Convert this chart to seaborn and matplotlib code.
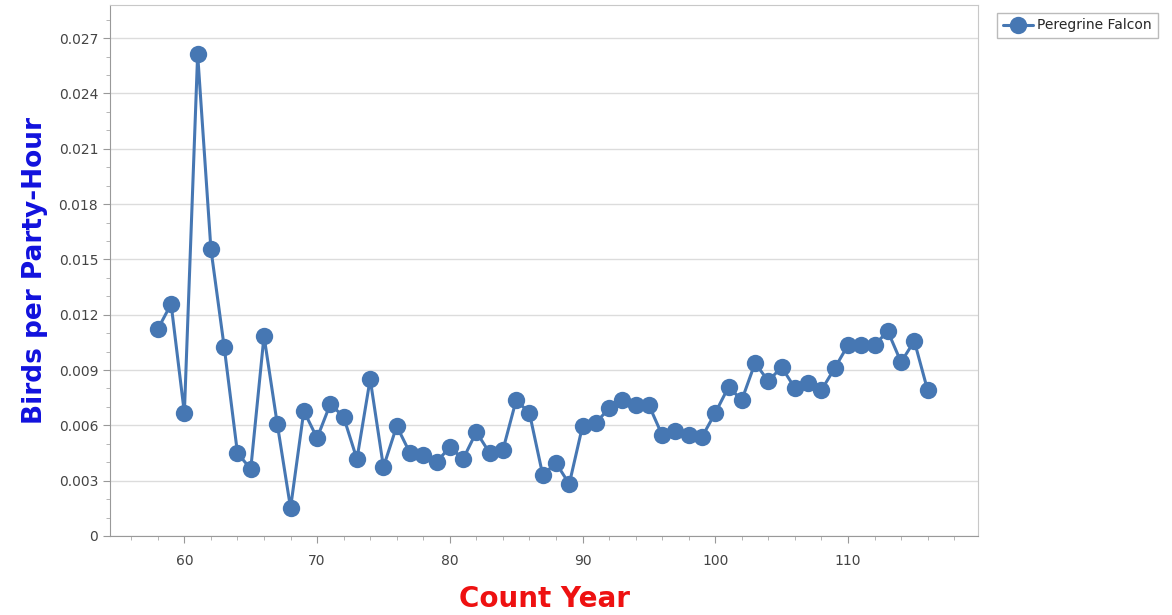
import numpy as np
import pandas as pd
import matplotlib
matplotlib.use('Agg')
import matplotlib.pyplot as plt
from matplotlib.ticker import MultipleLocator, FuncFormatter
import seaborn as sns

years = list(range(58, 117))
birds_per_hour = [
    0.01122, 0.01258, 0.00667, 0.02613, 0.01556, 0.01025, 0.00450, 0.00363,
    0.01084, 0.00607, 0.00152, 0.00678, 0.00531, 0.00716, 0.00645, 0.00417,
    0.00851, 0.00374, 0.00596, 0.00450, 0.00439, 0.00401, 0.00482, 0.00417,
    0.00564, 0.00450, 0.00466, 0.00737, 0.00667, 0.00331, 0.00396, 0.00282,
    0.00596, 0.00612, 0.00694, 0.00737, 0.00710, 0.00710, 0.00547, 0.00569,
    0.00547, 0.00537, 0.00667, 0.00808, 0.00737, 0.00938, 0.00840, 0.00916,
    0.00802, 0.00829, 0.00791, 0.00910, 0.01035, 0.01035, 0.01035, 0.01111,
    0.00943, 0.01057, 0.00791,
]
series_name = 'Peregrine Falcon'

df = pd.DataFrame({'Count Year': years, 'Birds': birds_per_hour})

sns.set_style('white')
plt.rcParams['font.family'] = ['DejaVu Sans']

fig = plt.figure(figsize=(11.72, 6.15), dpi=100)
ax = fig.add_axes([0.0939, 0.1285, 0.7406, 0.8635])

line_color = '#4677b3'
sns.lineplot(data=df, x='Count Year', y='Birds', ax=ax, color=line_color,
             marker='o', markersize=12.5, linewidth=2.2, markeredgewidth=0,
             label=series_name)

ax.set_xlim(54.4, 119.8)
ax.set_ylim(0, 0.0288)
ax.xaxis.set_major_locator(MultipleLocator(10))
ax.xaxis.set_minor_locator(MultipleLocator(2))
ax.yaxis.set_major_locator(MultipleLocator(0.003))
ax.yaxis.set_minor_locator(MultipleLocator(0.001))
ax.yaxis.set_major_formatter(FuncFormatter(lambda v, p: '0' if abs(v) < 1e-9 else f'{v:.3f}'))

ax.grid(axis='y', which='major', color='#dcdcdc', linewidth=1)
ax.set_axisbelow(True)
for s in ax.spines.values():
    s.set_color('#c8c8c8')
ax.spines['left'].set_color('#999999')
ax.spines['bottom'].set_color('#999999')

ax.tick_params(axis='both', which='major', direction='out', length=5, color='#999999',
               labelcolor='#444444', labelsize=10, bottom=True, left=True)
ax.tick_params(axis='both', which='minor', direction='out', length=3, color='#aaaaaa',
               bottom=True, left=True)
ax.tick_params(axis='x', pad=8)

ax.set_xlabel('Count Year', color='#ee1111', fontsize=20, fontweight='bold', labelpad=12)
ax.set_ylabel('Birds per Party-Hour', color='#1111dd', fontsize=19, fontweight='bold', labelpad=8)

leg = ax.legend(loc='upper left', bbox_to_anchor=(1.014, 0.998), fontsize=10,
                frameon=True, fancybox=False, handlelength=2.2, borderpad=0.4,
                handletextpad=0.3)
leg.get_frame().set_edgecolor('#aaaaaa')
leg.get_frame().set_linewidth(1)

fig.savefig('out.png', dpi=100, facecolor='white')
